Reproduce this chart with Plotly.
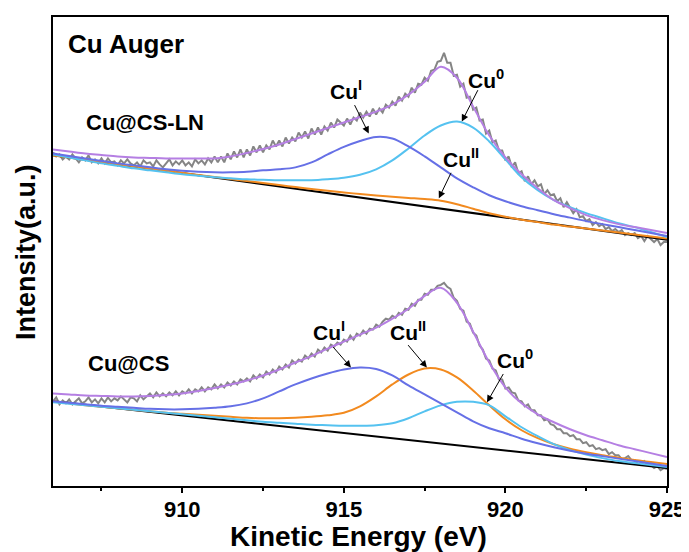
import numpy as np
import plotly.graph_objects as go

# ---------------- data ----------------
# smooth (fitted) curves sampled every 0.5 eV from 906 to 925 eV
energy_fit = [906.0, 906.5, 907.0, 907.5, 908.0, 908.5, 909.0, 909.5, 910.0, 910.5,
              911.0, 911.5, 912.0, 912.5, 913.0, 913.5, 914.0, 914.5, 915.0, 915.5,
              916.0, 916.5, 917.0, 917.5, 918.0, 918.5, 919.0, 919.5, 920.0, 920.5,
              921.0, 921.5, 922.0, 922.5, 923.0, 923.5, 924.0, 924.5, 925.0]

# ---- Cu@CS-LN (upper, offset) ----
lnEnvelope = [338, 336, 334, 332.5, 331, 330, 329.5, 329, 329, 329, 329, 331, 334.5, 338.5, 343,
              348.5, 354, 359.5, 365, 370.5, 376, 383, 393, 406, 421, 410, 381, 352, 330, 313,
              299, 287, 279, 272, 267, 263, 260, 257, 254]
lnCuI = [334, 331.5, 329, 326.5, 324, 322, 320, 318, 316.5, 315.5, 315, 315, 315.5, 317, 318,
         320, 325, 333, 340.5, 346.5, 350.5, 349, 341, 331, 320, 309, 300, 292, 286, 281,
         277, 273, 269.5, 266, 263, 260, 257, 254, 251]
lnCu0 = [333, 330, 327, 324, 321.5, 319, 317, 315, 313, 311.5, 310, 309, 308, 307.5, 307,
         307, 307, 308, 309.5, 312.5, 318, 327, 339, 352, 362, 366, 360, 346, 328, 310,
         297, 287, 280, 274, 269, 264, 260, 255, 250]
lnCuII = [332, 329.8, 327.6, 325.4, 323.2, 321, 318.8, 316.6, 314.5, 312.4, 310.3, 308.2, 306.2,
          304.2, 302.2, 300.2, 298.3, 296.5, 294.8, 293.2, 291.7, 290.4, 289.3, 288.2, 286.5,
          283, 278.5, 274, 270.5, 267.5, 265, 262.5, 260.5, 258.5, 256.5, 254.5, 252.5, 250.5, 248.5]
bg_energy = [906.0, 925.0]
lnBackground = [332.2, 247.3]

# ---- Cu@CS (lower) ----
csEnvelope = [93, 92, 91, 90.5, 90, 90, 90.5, 91.5, 93, 95.5, 98.5, 102, 106, 111, 117, 124,
              130.5, 138, 145, 152, 159, 168, 178, 191, 199, 184, 155, 124, 99, 83, 72, 64,
              57, 51, 46, 41, 37, 33, 29]
csCuI = [85, 83.5, 82, 80.5, 79.5, 78.5, 77.5, 77, 77, 77.5, 78.5, 80, 83, 88, 95, 102, 108,
         113, 117, 119, 117.5, 111, 101, 92, 83, 74, 65, 58, 53, 47.5, 43, 39, 35.5, 32.5,
         30, 27.5, 25, 22.5, 20]
csCuII = [85, 83, 81, 79.5, 78, 76.5, 75, 73.5, 72.5, 71.5, 70.5, 69.5, 68.5, 68, 68, 68.5,
          69.5, 71, 73.5, 80, 90, 102, 112, 118, 117, 109, 96, 81, 67, 56, 48, 42, 37.5, 34,
          31, 28.5, 26, 24, 22]
csCu0 = [84, 82.5, 81, 79.5, 78, 76.5, 75, 73.5, 72, 70.5, 69, 67.5, 66, 64.5, 63.5, 62.5,
         61.5, 61, 60.5, 60.5, 61, 63, 68, 75, 81, 84.5, 84.5, 81, 70, 59, 50, 42, 36, 31.5,
         28, 25, 23, 21, 19]
csBackground = [85, 18]

# raw (measured) spectra, every 0.1 eV from 906.0 to 925.0 eV
energy_raw = np.round(np.arange(906.0, 925.0001, 0.1), 1)
lnRaw = [335, 331, 333, 328, 331, 328, 333, 329, 325, 330, 327, 332, 325, 328, 324,
         329, 324, 329, 325, 326, 322, 327, 324, 328, 324, 322, 325, 321, 327, 324,
         325, 321, 327, 323, 320, 324, 328, 322, 326, 323, 327, 322, 325, 321, 328,
         324, 327, 323, 329, 325, 331, 325, 331, 325, 334, 328, 336, 330, 338, 330,
         338, 332, 341, 335, 342, 335, 342, 338, 347, 341, 347, 341, 350, 344, 350,
         346, 355, 350, 356, 349, 359, 353, 360, 353, 361, 357, 365, 360, 368, 365,
         362, 369, 363, 370, 367, 375, 370, 376, 371, 379, 373, 379, 375, 383, 380,
         386, 382, 391, 387, 394, 391, 400, 395, 404, 403, 410, 407, 417, 418, 426,
         427, 435, 425, 425, 412, 413, 401, 404, 390, 391, 378, 380, 367, 368, 354,
         357, 345, 347, 337, 337, 327, 331, 320, 325, 314, 316, 306, 311, 303, 307,
         301, 303, 293, 297, 292, 293, 286, 289, 280, 285, 279, 274, 278, 270, 271,
         266, 268, 262, 265, 261, 263, 258, 260, 256, 258, 255, 257, 252, 254, 252,
         254, 249, 251, 246, 251, 248, 245, 248, 242, 245, 245]
csRaw = [85, 89, 82, 86, 83, 87, 82, 85, 88, 83, 85, 89, 84, 87, 83,
         88, 84, 89, 85, 88, 86, 90, 87, 84, 89, 88, 85, 91, 87, 90,
         93, 89, 94, 90, 93, 90, 94, 91, 95, 91, 95, 93, 97, 93, 97,
         95, 99, 95, 99, 97, 102, 98, 102, 99, 104, 101, 105, 102, 107, 105,
         108, 105, 111, 108, 112, 109, 115, 112, 117, 114, 120, 117, 122, 119, 126,
         123, 127, 125, 131, 128, 133, 130, 137, 134, 139, 136, 142, 140, 144, 142,
         147, 145, 151, 147, 153, 151, 156, 153, 158, 157, 162, 160, 165, 168, 167,
         171, 169, 174, 172, 178, 177, 183, 181, 187, 187, 193, 192, 197, 197, 201,
         202, 204, 200, 198, 189, 186, 178, 176, 165, 163, 154, 151, 141, 137, 128,
         126, 118, 116, 107, 107, 98, 99, 94, 93, 86, 85, 80, 82, 76, 76,
         71, 71, 66, 67, 62, 61, 57, 57, 53, 53, 50, 51, 47, 47, 43,
         44, 40, 41, 37, 38, 36, 37, 32, 34, 31, 31, 27, 28, 30, 26,
         26, 22, 23, 25, 21, 21, 18, 20, 16, 18, 17]

x_ticks = [910, 915, 920, 925]

# ---------------- style ----------------
FONT = "Liberation Sans, Arial, sans-serif"
C_RAW = "#858585"
C_ENV = "#b57fe3"
C_CUI = "#6670e6"
C_CU0 = "#55c2f0"
C_CUII = "#f28a1f"
C_BG = "#000000"

fig = go.Figure()

def add_set(raw, env, cui, cu0, cuii, bgv):
    fig.add_trace(go.Scatter(x=energy_raw, y=raw, mode="lines",
                             line=dict(color=C_RAW, width=2), showlegend=False))
    fig.add_trace(go.Scatter(x=bg_energy, y=bgv, mode="lines",
                             line=dict(color=C_BG, width=2), showlegend=False))
    fig.add_trace(go.Scatter(x=energy_fit, y=cuii, mode="lines",
                             line=dict(color=C_CUII, width=2, shape="spline"), showlegend=False))
    fig.add_trace(go.Scatter(x=energy_fit, y=cu0, mode="lines",
                             line=dict(color=C_CU0, width=2, shape="spline"), showlegend=False))
    fig.add_trace(go.Scatter(x=energy_fit, y=cui, mode="lines",
                             line=dict(color=C_CUI, width=2, shape="spline"), showlegend=False))
    fig.add_trace(go.Scatter(x=energy_fit, y=env, mode="lines",
                             line=dict(color=C_ENV, width=2, shape="spline"), showlegend=False))

add_set(lnRaw, lnEnvelope, lnCuI, lnCu0, lnCuII, lnBackground)
add_set(csRaw, csEnvelope, csCuI, csCu0, csCuII, csBackground)

ann = []

def label(x, y, text, size=21, xanchor="center", xref="x", yref="y"):
    ann.append(dict(x=x, y=y, xref=xref, yref=yref, text=text, showarrow=False,
                    xanchor=xanchor, yanchor="middle",
                    font=dict(family=FONT, size=size, color="black", weight="bold")))

def arrow(hx, hy, tx, ty):
    ann.append(dict(x=hx, y=hy, ax=tx, ay=ty, xref="x", yref="y", axref="x", ayref="y",
                    text="", showarrow=True, arrowhead=2, arrowsize=1.4, arrowwidth=1,
                    arrowcolor="black", standoff=0, startstandoff=0))

# upper spectrum labels
label(915.06, 398, "Cu<sup>I</sup>")
label(919.41, 409, "Cu<sup>0</sup>")
label(918.61, 329, "Cu<sup>II</sup>")
arrow(915.77, 354, 915.31, 384)
arrow(918.65, 366, 919.17, 399)
arrow(917.94, 289, 918.34, 316)
# lower spectrum labels
label(914.55, 156, "Cu<sup>I</sup>")
label(917.00, 156, "Cu<sup>II</sup>")
label(920.31, 128, "Cu<sup>0</sup>")
arrow(915.22, 119, 914.63, 141)
arrow(917.57, 119, 916.95, 143)
arrow(919.43, 84, 919.96, 114)

label(906.40, 444, "Cu Auger", size=26, xanchor="left")
label(906.95, 365, "Cu@CS-LN", size=22, xanchor="left")
label(907.01, 123, "Cu@CS", size=22, xanchor="left")

# axis titles
ann.append(dict(x=-0.044, y=0.499, xref="paper", yref="paper", text="Intensity(a.u.)",
                textangle=-90, showarrow=False, xanchor="center", yanchor="middle",
                font=dict(family=FONT, size=27, color="black", weight="bold")))
ann.append(dict(x=0.4976, y=-0.108, xref="paper", yref="paper", text="Kinetic Energy (eV)",
                showarrow=False, xanchor="center", yanchor="middle",
                font=dict(family=FONT, size=28, color="black", weight="bold")))

# the page body adds an 8 px margin, so the figure is sized to fit the 689x552 window
fig.update_layout(
    width=684, height=544,
    margin=dict(l=45, r=24, t=7, b=66),
    paper_bgcolor="white", plot_bgcolor="white",
    annotations=ann,
    showlegend=False,
)
fig.update_xaxes(range=[906, 925], tickvals=x_ticks, ticktext=[str(v) for v in x_ticks],
                 ticks="outside", ticklen=5, tickwidth=1.5, tickcolor="black",
                 ticklabelstandoff=-2, ticklabeloverflow="allow",
                 minor=dict(dtick=2.5, tick0=905, ticks="outside", ticklen=3, tickwidth=1.5,
                            tickcolor="black"),
                 showline=True, linewidth=2, linecolor="black", mirror=True,
                 showgrid=False, zeroline=False,
                 tickfont=dict(family=FONT, size=22, color="black", weight="bold"))
fig.update_yaxes(range=[0, 471], showticklabels=False, ticks="",
                 showline=True, linewidth=2, linecolor="black", mirror=True,
                 showgrid=False, zeroline=False)

fig.write_html("out.html")
